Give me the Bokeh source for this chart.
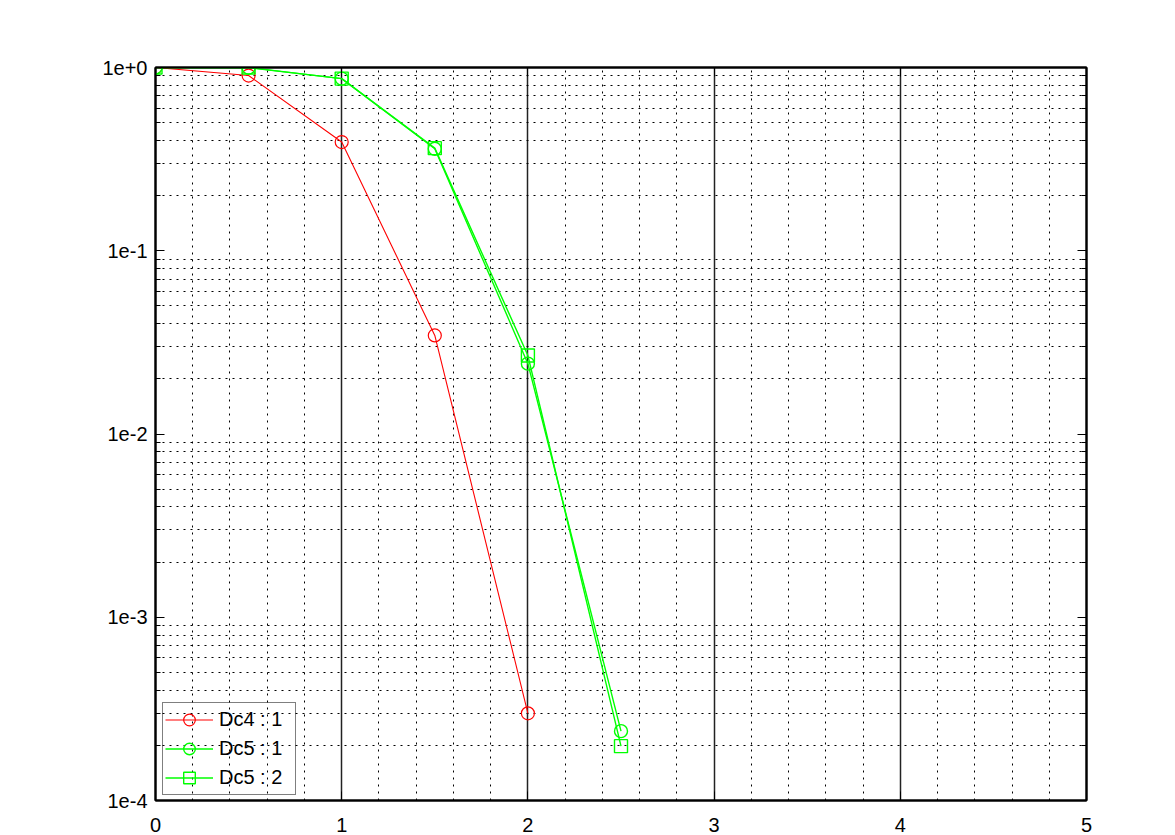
from bokeh.plotting import figure
from bokeh.models import (FixedTicker, LogAxis, LinearAxis, Legend, LegendItem,
                          CustomJSTickFormatter, Range1d)
from bokeh.embed import file_html
from bokeh.resources import INLINE

# ---- data ----
dc4_x = [0.0, 0.5, 1.0, 1.5, 2.0]
dc4_1 = [1.0, 0.904, 0.392, 0.0345, 2.99e-4]
dc5_x = [0.0, 0.5, 1.0, 1.5, 2.0, 2.5]
dc5_1 = [1.0, 0.997, 0.87, 0.360, 0.0242, 2.39e-4]
dc5_2 = [1.0, 1.0, 0.87, 0.363, 0.0268, 1.98e-4]
series_labels = ["Dc4 : 1", "Dc5 : 1", "Dc5 : 2"]
xticks = [0, 1, 2, 3, 4, 5]
yticks = [1e-4, 1e-3, 1e-2, 1e-1, 1.0]
ytick_labels = ["1e-4", "1e-3", "1e-2", "1e-1", "1e+0"]

x_minor = [i * 0.2 for i in range(1, 25) if i % 5 != 0]
y_minor = [m * d for d in yticks[:-1] for m in range(2, 10)]

FONT = "Liberation Sans"

p = figure(width=1167, height=835, y_axis_type="log",
           x_range=Range1d(0, 5), y_range=Range1d(1e-4, 1.0),
           output_backend="svg", toolbar_location=None,
           min_border_left=155, min_border_top=67,
           min_border_right=81, min_border_bottom=35)
p.background_fill_color = "white"
p.border_fill_color = "white"
p.outline_line_color = "#111111"
p.outline_line_width = 2

# grids
p.xgrid.ticker = FixedTicker(ticks=xticks, minor_ticks=x_minor)
p.xgrid.grid_line_color = "#222222"
p.xgrid.grid_line_width = 1.5
p.xgrid.minor_grid_line_color = "black"
p.xgrid.minor_grid_line_dash = "2 5"
p.xgrid.minor_grid_line_width = 1

p.ygrid.ticker = FixedTicker(ticks=yticks, minor_ticks=y_minor)
p.ygrid.grid_line_color = None
p.ygrid.minor_grid_line_color = "black"
p.ygrid.minor_grid_line_dash = "2 5"
p.ygrid.minor_grid_line_width = 1

yfmt = CustomJSTickFormatter(args=dict(vals=yticks, labs=ytick_labels), code="""
    let best = 0, bd = Infinity;
    for (let i = 0; i < vals.length; i++) {
        const d = Math.abs(Math.log10(vals[i]) - Math.log10(tick));
        if (d < bd) { bd = d; best = i; }
    }
    return labs[best];
""")

def style_axis(ax, show_labels, minor, standoff=8):
    ax.axis_line_color = "black"
    ax.axis_line_width = 2
    ax.major_tick_in = 9
    ax.major_tick_out = 0
    ax.major_tick_line_color = "black"
    ax.major_tick_line_width = 1
    if minor:
        ax.minor_tick_in = 5
        ax.minor_tick_out = 0
        ax.minor_tick_line_color = "black"
    else:
        ax.minor_tick_line_color = None
    ax.major_label_text_font = FONT
    ax.major_label_text_font_size = "20px"
    ax.major_label_text_color = "black"
    ax.major_label_standoff = standoff
    if not show_labels:
        ax.major_label_text_alpha = 0

# bottom / left
p.xaxis.ticker = FixedTicker(ticks=xticks)
style_axis(p.xaxis[0], True, False, standoff=17)
p.xaxis.major_label_text_line_height = 0.7
p.yaxis.ticker = FixedTicker(ticks=yticks, minor_ticks=y_minor)
p.yaxis.formatter = yfmt
style_axis(p.yaxis[0], True, True, standoff=8)

# top / right (ticks only)
top = LinearAxis(ticker=FixedTicker(ticks=xticks))
style_axis(top, False, False)
p.add_layout(top, "above")
right = LogAxis(ticker=FixedTicker(ticks=yticks, minor_ticks=y_minor))
style_axis(right, False, True)
p.add_layout(right, "right")

RED = "#ff0000"
GREEN = "#00ff00"

l1 = p.line(dc4_x, dc4_1, line_color=RED, line_width=1.1)
m1 = p.scatter(dc4_x, dc4_1, marker="circle", size=13, fill_color=None,
               line_color=RED, line_width=1.2)
l2 = p.line(dc5_x, dc5_1, line_color=GREEN, line_width=1.4)
m2 = p.scatter(dc5_x, dc5_1, marker="circle", size=13, fill_color=None,
               line_color=GREEN, line_width=1.4)
l3 = p.line(dc5_x, dc5_2, line_color=GREEN, line_width=1.4)
m3 = p.scatter(dc5_x, dc5_2, marker="square", size=13, fill_color=None,
               line_color=GREEN, line_width=1.4)

legend = Legend(items=[LegendItem(label=series_labels[0], renderers=[l1, m1]),
                       LegendItem(label=series_labels[1], renderers=[l2, m2]),
                       LegendItem(label=series_labels[2], renderers=[l3, m3])],
                location=(7, 5), margin=0, padding=2, spacing=0,
                glyph_height=29, glyph_width=48, label_height=20,
                label_standoff=6, label_width=74,
                label_text_font=FONT, label_text_font_size="20px",
                label_text_color="black",
                background_fill_alpha=0, border_line_color="black",
                border_line_width=1)
p.add_layout(legend)

open("out.html", "w").write(file_html(p, INLINE))
